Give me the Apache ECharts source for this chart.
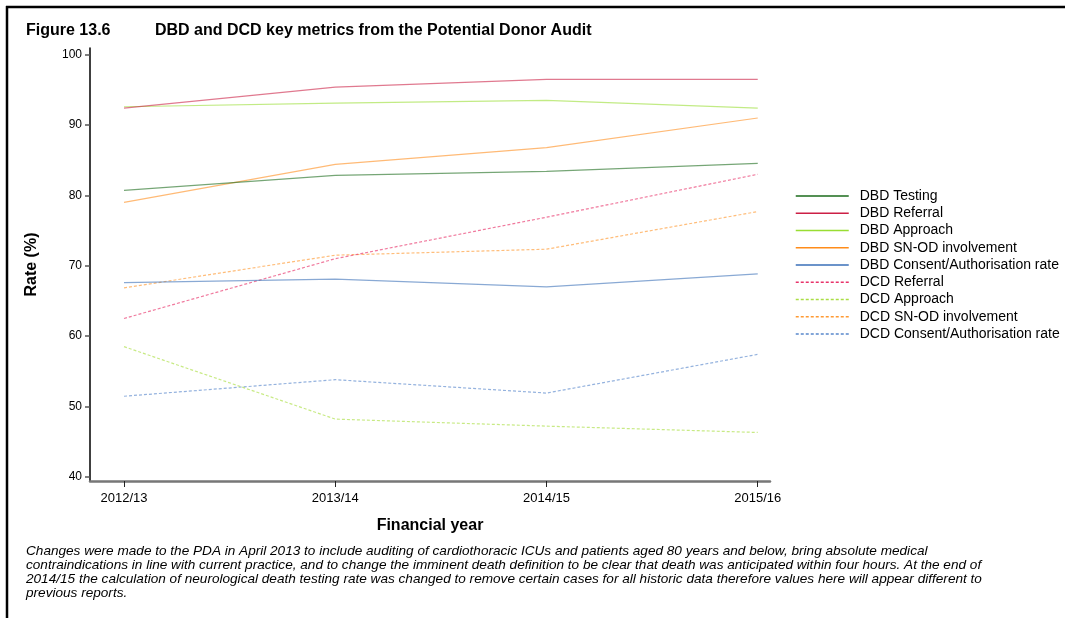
<!DOCTYPE html>
<html><head><meta charset="utf-8">
<script src="https://cdn.jsdelivr.net/npm/echarts@6/dist/echarts.min.js"></script>
<style>html,body{margin:0;padding:0;background:#fff}#c{width:1065px;height:618px}</style>
</head><body><div id="c"></div>
<script>
const years = ['2012/13', '2013/14', '2014/15', '2015/16'];
const yTicks = [40, 50, 60, 70, 80, 90, 100];
const seriesNames = ['DBD Testing', 'DBD Referral', 'DBD Approach', 'DBD SN-OD involvement', 'DBD Consent/Authorisation rate',
  'DCD Referral', 'DCD Approach', 'DCD SN-OD involvement', 'DCD Consent/Authorisation rate'];
const dbdTesting = [80.7, 82.85, 83.4, 84.55];
const dbdReferral = [92.4, 95.4, 96.5, 96.5];
const dbdApproach = [92.6, 93.1, 93.5, 92.4];
const dbdSnod = [79.0, 84.4, 86.8, 91.0];
const dbdConsent = [67.6, 68.1, 67.0, 68.85];
const dcdReferral = [62.5, 71.0, 76.9, 83.0];
const dcdApproach = [58.5, 48.2, 47.2, 46.3];
const dcdSnod = [66.85, 71.5, 72.35, 77.7];
const dcdConsent = [51.45, 53.8, 51.9, 57.4];
const values = [dbdTesting, dbdReferral, dbdApproach, dbdSnod, dbdConsent, dcdReferral, dcdApproach, dcdSnod, dcdConsent];
const colors = ['#1b6b1b', '#cc1f45', '#99dd33', '#ff8c1a', '#3a6fb8', '#e8336a', '#aade44', '#ff9a33', '#5a88cc'];
const footnote = [
 'Changes were made to the PDA in April 2013 to include auditing of cardiothoracic ICUs and patients aged 80 years and below, bring absolute medical',
 'contraindications in line with current practice, and to change the imminent death definition to be clear that death was anticipated within four hours. At the end of',
 '2014/15 the calculation of neurological death testing rate was changed to remove certain cases for all historic data therefore values here will appear different to',
 'previous reports.'
];

const chart = echarts.init(document.getElementById('c'));
const FF = '"Liberation Sans", Arial, sans-serif';
const series = seriesNames.map((n, i) => ({
  name: n, type: 'line', symbol: 'none', color: colors[i],
  data: values[i].map((v, j) => [j, v]),
  lineStyle: { width: 1.2, opacity: i < 5 ? 0.6 : 0.65, type: i < 5 ? 'solid' : [3, 2] },
  emphasis: { disabled: true }, z: 10 - i
}));
chart.setOption({
  animation: false,
  textStyle: { fontFamily: FF },
  grid: { left: 90, right: 295, top: 48, bottom: 137 },
  title: [
    { text: 'Figure 13.6', left: 26, top: 23, padding: 0, textStyle: { fontSize: 16, fontWeight: 'bold', color: '#000', fontFamily: FF } },
    { text: 'DBD and DCD key metrics from the Potential Donor Audit', left: 155, top: 23, padding: 0, textStyle: { fontSize: 16, fontWeight: 'bold', color: '#000', fontFamily: FF } }
  ],
  legend: {
    orient: 'vertical', left: 795, top: 189, padding: 0, itemWidth: 53, itemHeight: 14, itemGap: 3.25,
    data: seriesNames,
    lineStyle: { opacity: 1, width: 1.5 },
    itemStyle: { opacity: 0 },
    textStyle: { fontSize: 14, color: '#000', fontFamily: FF, padding: [0, 0, 0, 6] },
    selectedMode: false
  },
  xAxis: {
    type: 'value', min: -0.161, max: 3.058,
    name: 'Financial year', nameLocation: 'middle', nameGap: 37,
    nameTextStyle: { fontSize: 16, fontWeight: 'bold', color: '#000', fontFamily: FF },
    axisLine: { onZero: false, lineStyle: { color: '#777', width: 2.5 } },
    axisTick: { show: true, length: 6, lineStyle: { color: '#222', width: 1 }, customValues: [0, 1, 2, 3] },
    axisLabel: { customValues: [0, 1, 2, 3], formatter: v => years[Math.round(v)], fontSize: 13, color: '#000', margin: 11 },
    splitLine: { show: false }
  },
  yAxis: {
    type: 'value', min: 39.4, max: 100.95,
    name: 'Rate (%)', nameLocation: 'middle', nameGap: 50, nameRotate: 90,
    nameTextStyle: { fontSize: 16, fontWeight: 'bold', color: '#000', fontFamily: FF },
    axisLine: { show: true, onZero: false, lineStyle: { color: '#000', width: 1.5 } },
    axisTick: { show: true, length: 5, lineStyle: { color: '#555', width: 1.5 }, customValues: yTicks },
    axisLabel: { customValues: yTicks, fontSize: 12, color: '#000', margin: 8 },
    splitLine: { show: false }
  },
  graphic: [
    { type: 'line', shape: { x1: 6, y1: 7, x2: 1065, y2: 7 }, style: { stroke: '#000', lineWidth: 2.5 } },
    { type: 'line', shape: { x1: 7, y1: 6, x2: 7, y2: 618 }, style: { stroke: '#000', lineWidth: 2.5 } },
    { type: 'text', left: 26, top: 544, style: { text: footnote.join('\n'), font: 'italic 13.6px ' + FF, lineHeight: 14, fill: '#000' } }
  ],
  series: series
});
</script></body></html>
